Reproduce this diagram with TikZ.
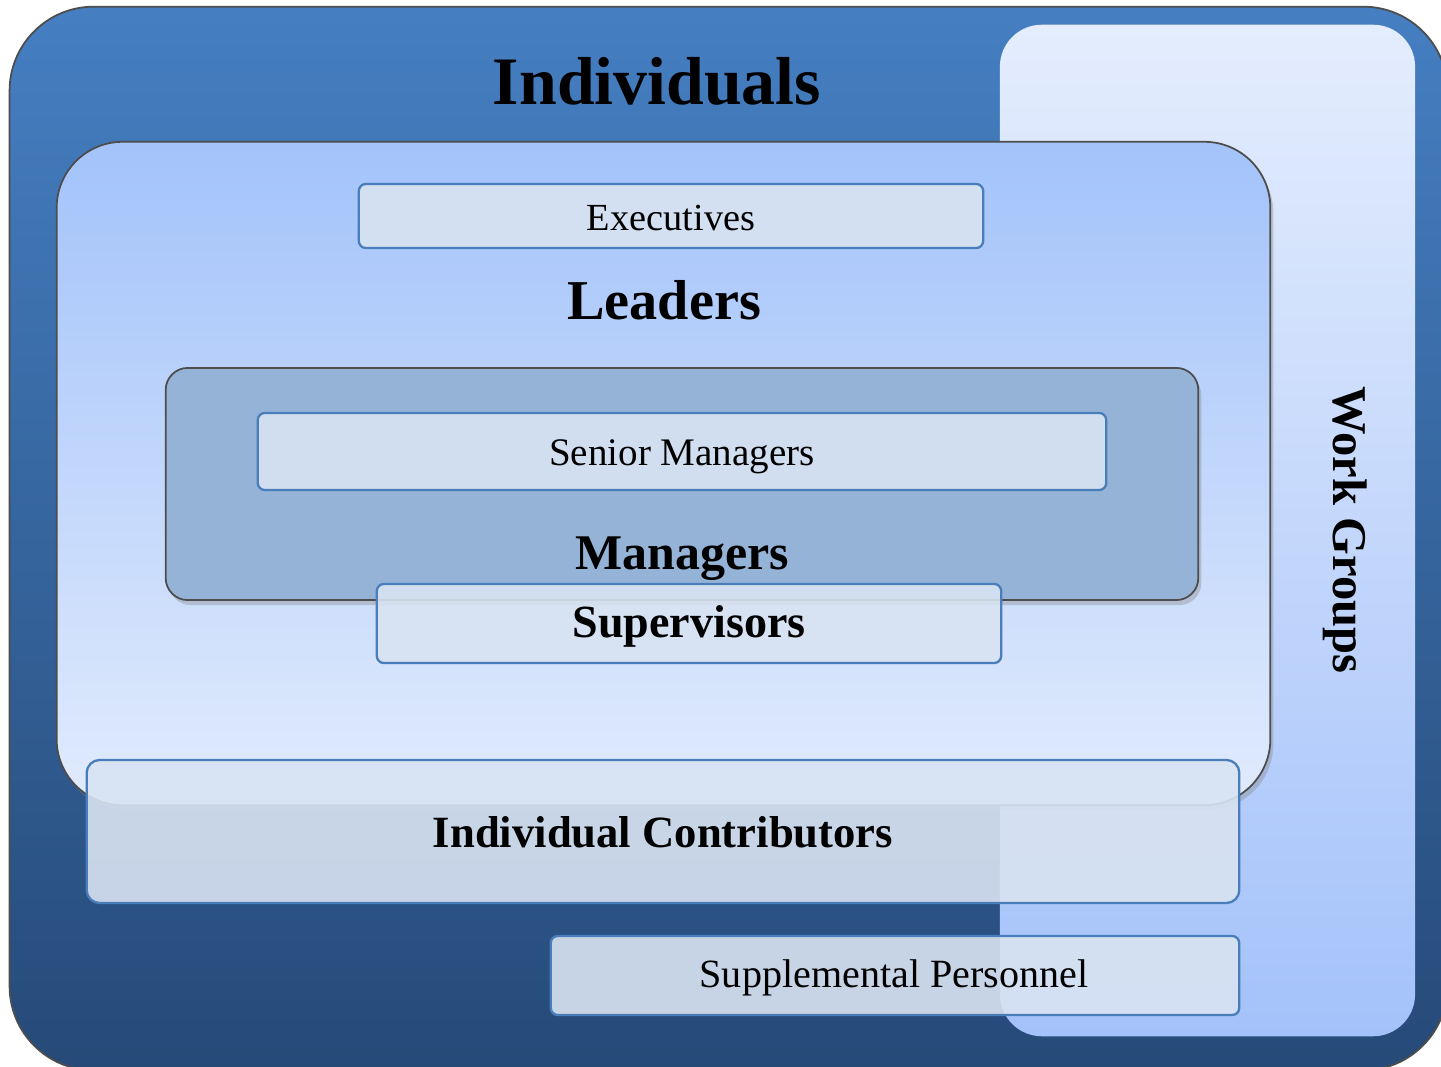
\documentclass[tikz,border=0pt]{standalone}
\usepackage{fontspec}
\setmainfont{Liberation Serif}
\usetikzlibrary{shadows}

\definecolor{outerTop}{HTML}{457FC2}
\definecolor{outerBot}{HTML}{264A78}
\definecolor{wgTop}{HTML}{E4EDFD}
\definecolor{wgBot}{HTML}{A4C2FA}
\definecolor{ldTop}{HTML}{A3C3FA}
\definecolor{ldBot}{HTML}{E1EBFD}
\definecolor{mgFill}{HTML}{95B3D7}
\definecolor{panelFill}{HTML}{D8E3F2}
\definecolor{panelLine}{HTML}{4A7EBB}
\definecolor{frameLine}{HTML}{4D4D4D}

\tikzset{
  shape box/.style={rectangle, inner sep=0pt, outer sep=0pt},
  group box/.style={shape box, draw=frameLine, line width=0.5pt},
  panel/.style={shape box, rounded corners=0.07cm, fill=panelFill, fill opacity=0.9,
                draw=panelLine, draw opacity=1, line width=0.65pt},
  soft shadow/.style={drop shadow={opacity=0.35, shadow xshift=0.03cm, shadow yshift=-0.05cm}},
  title/.style={anchor=base, inner sep=0pt, font=\bfseries},
  plain label/.style={anchor=base, inner sep=0pt},
}

\begin{document}
\begin{tikzpicture}[x=0.01cm, y=-0.01cm]
  \useasboundingbox (0,0) rectangle (1441,1067);

  % outermost frame: individuals
  \node[group box, rounded corners=0.84cm, top color=outerTop, bottom color=outerBot,
        minimum width=14.37cm, minimum height=10.63cm] (indiv) at (728.5,538.5) {};
  \node[title, font=\fontsize{19.3}{23}\selectfont\bfseries] (indivT) at (657,105) {Individuals};

  % work groups column on the right
  \node[shape box, rounded corners=0.42cm, top color=wgTop, bottom color=wgBot,
        minimum width=4.15cm, minimum height=10.11cm] (wg) at (1207.5,530.5) {};
  \node[title, rotate=-90, font=\fontsize{13.8}{16}\selectfont\bfseries] (wgT) at (1333,530) {Work Groups};

  % leaders frame
  \node[group box, soft shadow, rounded corners=0.66cm, top color=ldTop, bottom color=ldBot,
        minimum width=12.13cm, minimum height=6.63cm] (lead) at (663.5,473.5) {};
  \node[panel, minimum width=6.24cm, minimum height=0.64cm] (exec) at (671,216) {};
  \node[plain label, font=\fontsize{10.9}{13}\selectfont] (execT) at (671,231) {Executives};
  \node[title, font=\fontsize{16}{19}\selectfont\bfseries] (leadT) at (664,320) {Leaders};

  % managers frame
  \node[group box, soft shadow, rounded corners=0.22cm, fill=mgFill,
        minimum width=10.32cm, minimum height=2.32cm] (mgr) at (682,484) {};
  \node[panel, minimum width=8.48cm, minimum height=0.77cm] (senior) at (682,451.5) {};
  \node[plain label, font=\fontsize{11.1}{13}\selectfont] (seniorT) at (682,466) {Senior Managers};
  \node[title, font=\fontsize{14.2}{17}\selectfont\bfseries] (mgrT) at (682,570) {Managers};

  \node[panel, minimum width=6.24cm, minimum height=0.79cm] (sup) at (689,623.5) {};
  \node[title, font=\fontsize{13.1}{16}\selectfont\bfseries] (supT) at (689,638) {Supervisors};

  % lower bands
  \node[panel, rounded corners=0.13cm, minimum width=11.52cm, minimum height=1.43cm] (ic) at (663,831.5) {};
  \node[title, font=\fontsize{12.7}{15}\selectfont\bfseries] (icT) at (663,848) {Individual Contributors};

  \node[panel, minimum width=6.88cm, minimum height=0.79cm] (supp) at (895,975.5) {};
  \node[plain label, font=\fontsize{11.4}{14}\selectfont] (suppT) at (894,988) {Supplemental Personnel};
\end{tikzpicture}
\end{document}
